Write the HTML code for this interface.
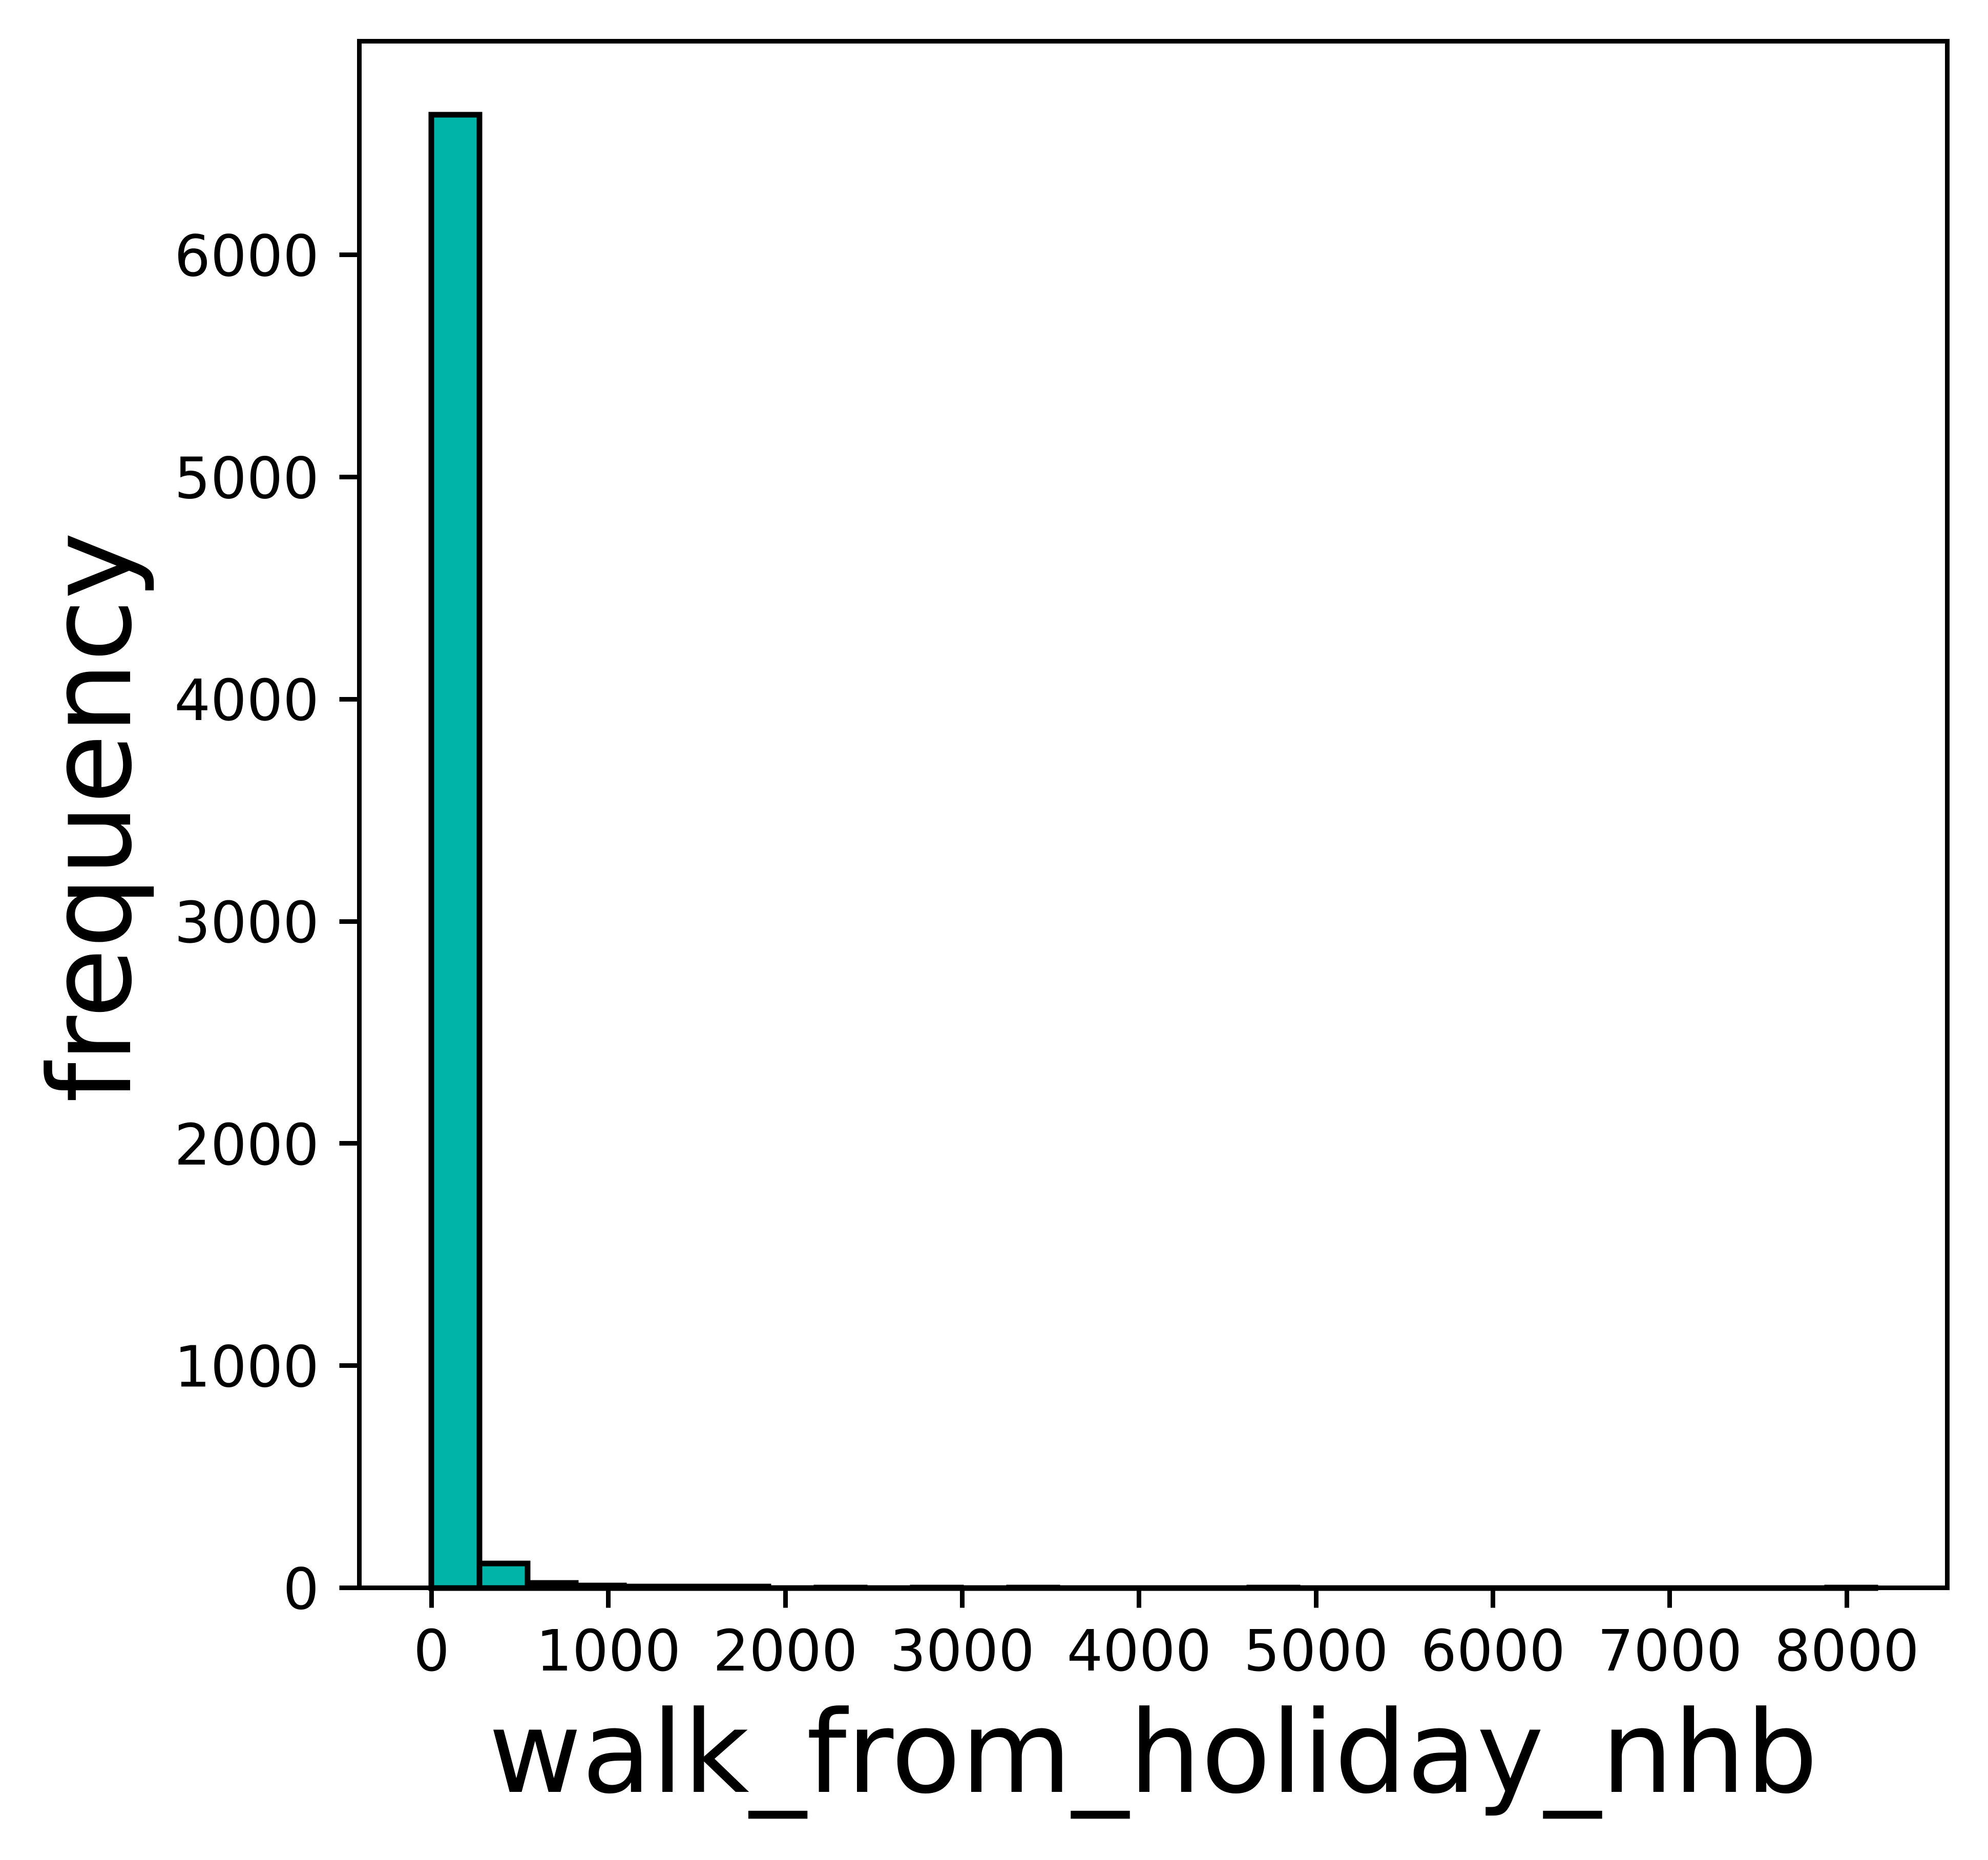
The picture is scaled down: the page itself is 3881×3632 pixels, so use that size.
<!DOCTYPE html>
<html lang="en">
<head>
<meta charset="utf-8">
<title>walk_from_holiday_nhb histogram</title>
<style>
  html, body { margin: 0; padding: 0; background: #ffffff; }
  body { width: 3881px; height: 3632px; overflow: hidden; }
  svg { display: block; }
  text { font-family: "DejaVu Sans", "Liberation Sans", sans-serif; fill: #000000; text-rendering: geometricPrecision; }
</style>
</head>
<body>
<svg id="chart" xmlns="http://www.w3.org/2000/svg" width="3881" height="3632" viewBox="0 0 3881 3632"></svg>
<script>
// Chart data
const binWidth = 272;
const binCounts = [6630, 109, 23, 11, 5, 5, 5, 0, 2, 0, 2, 0, 2, 0, 0, 0, 0, 2, 0, 0, 0, 0, 0, 0, 0, 0, 0, 0, 0, 2];
const xTicks = [0, 1000, 2000, 3000, 4000, 5000, 6000, 7000, 8000];
const yTicks = [0, 1000, 2000, 3000, 4000, 5000, 6000];
const xTitle = 'walk_from_holiday_nhb';
const yTitle = 'frequency';

// Plot frame
const plot = { left: 701.5, right: 3801.5, top: 80.5, bottom: 3100.5 };
const tickLen = 39;
const NS = 'http://www.w3.org/2000/svg';
const svg = document.getElementById('chart');

const dataMaxX = binWidth * binCounts.length;
const xMin = -0.05 * dataMaxX;
const xMax = 1.05 * dataMaxX;
const yMax = 1.05 * Math.max.apply(null, binCounts);

function xScale(v) { return plot.left + (v - xMin) / (xMax - xMin) * (plot.right - plot.left); }
function yScale(v) { return plot.bottom - v / yMax * (plot.bottom - plot.top); }
function snapHalf(p) { return Math.floor(p) + 0.5; }

function make(tag, attrs, parent) {
  const el = document.createElementNS(NS, tag);
  for (const k in attrs) el.setAttribute(k, attrs[k]);
  parent.appendChild(el);
  return el;
}

// Background
const background = make('rect', { x: 0, y: 0, width: 3881, height: 3632, fill: '#ffffff' }, svg);



// Bars (closed paths so that zero-count bins still draw their outline)
const barsGroup = make('g', { fill: '#00b4a8', stroke: '#000000', 'stroke-width': 11, 'stroke-linejoin': 'miter' }, svg);


binCounts.forEach(function (count, i) {
  const x0 = Math.round(xScale(i * binWidth));
  const x1 = Math.round(xScale((i + 1) * binWidth));
  const yTop = Math.round(yScale(count));
  const y0 = Math.round(yScale(0));
  const d = 'M' + x0 + ' ' + y0 + 'L' + x0 + ' ' + yTop + 'L' + x1 + ' ' + yTop + 'L' + x1 + ' ' + y0 + 'Z';
  const bar = make('path', { d: d }, barsGroup);
  
  
});

// X axis ticks and labels
const xAxis = make('g', {}, svg);


xTicks.forEach(function (v) {
  const px = snapHalf(xScale(v));
  const tick = make('line', { x1: px, x2: px, y1: plot.bottom, y2: plot.bottom + tickLen, stroke: '#000000', 'stroke-width': 9 }, xAxis);
  
  
  const label = make('text', { x: xScale(v), y: 3262, 'font-size': 111.1, 'text-anchor': 'middle' }, xAxis);
  label.textContent = String(v);
  
  
});

// Y axis ticks and labels
const yAxis = make('g', {}, svg);


yTicks.forEach(function (v) {
  const py = snapHalf(yScale(v));
  const tick = make('line', { x1: plot.left - tickLen, x2: plot.left, y1: py, y2: py, stroke: '#000000', 'stroke-width': 9 }, yAxis);
  
  
  const label = make('text', { x: 623, y: yScale(v) + 41, 'font-size': 111.1, 'text-anchor': 'end' }, yAxis);
  label.textContent = String(v);
  
  
});

// Plot frame (spines)
const frame = make('rect', {
  x: plot.left, y: plot.top,
  width: plot.right - plot.left, height: plot.bottom - plot.top,
  fill: 'none', stroke: '#000000', 'stroke-width': 9, 'stroke-linejoin': 'miter'
}, svg);



// Axis titles
const xLabel = make('text', { x: 2251.5, y: 3499, 'font-size': 222.2, 'letter-spacing': 0.25, 'text-anchor': 'middle' }, svg);
xLabel.textContent = xTitle;



const yLabel = make('text', { x: 0, y: 0, 'font-size': 222.2, 'text-anchor': 'middle', transform: 'translate(254 1596) rotate(-90)' }, svg);
yLabel.textContent = yTitle;


</script>
</body>
</html>
